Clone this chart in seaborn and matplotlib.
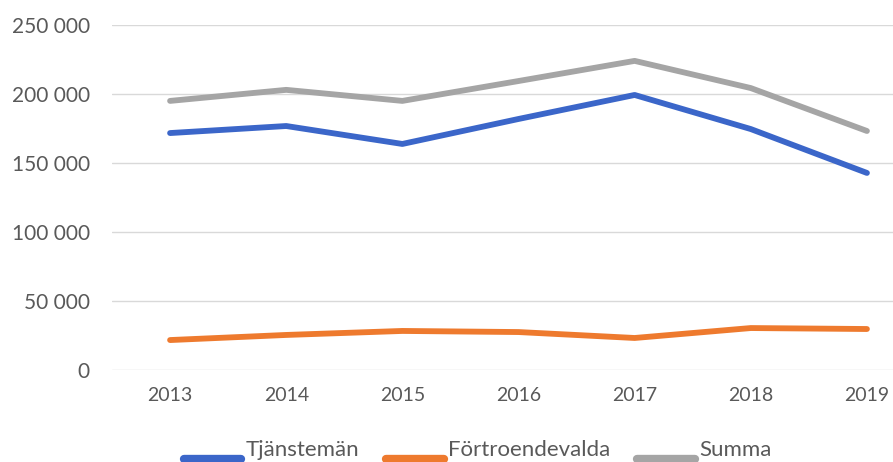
import numpy as np
import pandas as pd
import matplotlib.pyplot as plt
import seaborn as sns
from matplotlib.ticker import FuncFormatter
from matplotlib.legend_handler import HandlerLine2D

# Values
years = ['2013', '2014', '2015', '2016', '2017', '2018', '2019']
tjansteman = [171700, 176800, 163800, 181900, 199300, 174600, 142800]
fortroendevalda = [21700, 25400, 28300, 27500, 23200, 30400, 29700]
summa = [195000, 203000, 195000, 209400, 224000, 204300, 173200]

series_names = ['Tjänstemän', 'Förtroendevalda', 'Summa']
colors = ['#3b66c9', '#ee7a2e', '#a5a5a5']

# Long format for seaborn
data = pd.concat([
    pd.DataFrame({'År': years, 'Värde': vals, 'Serie': name})
    for name, vals in zip(series_names, [tjansteman, fortroendevalda, summa])
])

sns.set_style('white')
plt.rcParams['font.family'] = ['Lato', 'DejaVu Sans']

fig = plt.figure(figsize=(8.93, 4.62), dpi=100)
ax = fig.add_axes([112 / 893, 92 / 462, 813 / 893, 345 / 462])

sns.lineplot(data=data, x='År', y='Värde', hue='Serie', hue_order=series_names,
             palette=colors, linewidth=4.2, sort=False, ax=ax, legend=False)

ax.set_xlim(-0.5, 6.5)
ax.set_ylim(0, 250000)
ax.set_yticks(range(0, 250001, 50000))
ax.yaxis.set_major_formatter(FuncFormatter(lambda v, p: f'{int(v):,}'.replace(',', ' ')))
ax.grid(axis='y', color='#d9d9d9', linewidth=1)
ax.set_axisbelow(True)
ax.set_xlabel('')
ax.set_ylabel('')
for s in ax.spines.values():
    s.set_visible(False)
ax.tick_params(axis='both', length=0, labelcolor='#595959')
ax.tick_params(axis='x', pad=12, labelsize=14)
ax.tick_params(axis='y', pad=16, labelsize=15)


# legend lines sit a bit below the text, like in the original
class LowLine(HandlerLine2D):
    def create_artists(self, legend, orig_handle, xdescent, ydescent, width, height, fontsize, trans):
        return super().create_artists(legend, orig_handle, xdescent, ydescent + 15,
                                      width, height, fontsize, trans)


handles = [plt.Line2D([], [], color=c, linewidth=6) for c in colors]
fig.legend(handles, series_names, loc='center', bbox_to_anchor=(0.535, 0.026),
           ncol=3, frameon=False, fontsize=16, handlelength=2.6, columnspacing=1.2,
           handletextpad=0.2, labelcolor='#595959',
           handler_map={plt.Line2D: LowLine()})

fig.savefig('out.png', dpi=100)
